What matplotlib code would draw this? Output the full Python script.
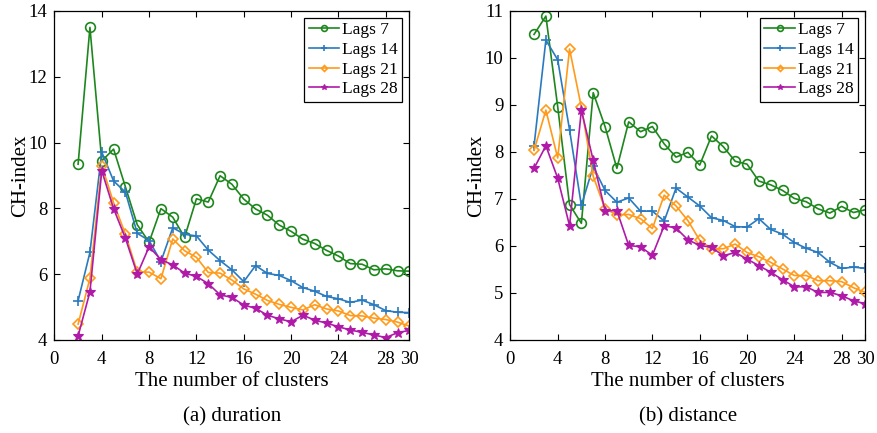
import numpy as np
import matplotlib
matplotlib.use("Agg")
import matplotlib.pyplot as plt

plt.rcParams['font.family'] = ['Liberation Serif', 'DejaVu Serif']
plt.rcParams['mathtext.fontset'] = 'stix'

# number of clusters on the x axis
clusters = np.arange(2, 31)

# CH-index for the duration features
dur_lag7 = [9.34, 13.50, 9.44, 9.80, 8.65, 7.50, 6.97, 7.99, 7.73, 7.12, 8.29, 8.19, 8.99,
            8.73, 8.28, 7.98, 7.79, 7.49, 7.30, 7.06, 6.93, 6.72, 6.55, 6.32, 6.30, 6.13,
            6.16, 6.10, 6.09]
dur_lag14 = [5.19, 6.66, 9.71, 8.83, 8.49, 7.24, 7.02, 6.38, 7.41, 7.21, 7.16, 6.73, 6.41,
             6.13, 5.77, 6.26, 6.02, 5.96, 5.80, 5.59, 5.48, 5.32, 5.25, 5.14, 5.21, 5.07,
             4.89, 4.84, 4.83]
dur_lag21 = [4.48, 5.87, 9.30, 8.17, 7.21, 6.07, 6.06, 5.86, 7.07, 6.71, 6.51, 6.05, 6.03,
             5.82, 5.55, 5.39, 5.20, 5.08, 4.99, 4.91, 5.07, 4.94, 4.88, 4.74, 4.73, 4.66,
             4.62, 4.54, 4.42]
dur_lag28 = [4.12, 5.46, 9.14, 7.99, 7.09, 6.00, 6.83, 6.44, 6.28, 6.03, 5.93, 5.71, 5.37,
             5.29, 5.06, 4.96, 4.75, 4.64, 4.55, 4.75, 4.60, 4.51, 4.40, 4.30, 4.23, 4.15,
             4.07, 4.22, 4.29]

# CH-index for the distance features
dist_lag7 = [10.50, 10.89, 8.96, 6.88, 6.48, 9.26, 8.54, 7.65, 8.64, 8.43, 8.54, 8.17, 7.89,
             7.99, 7.72, 8.34, 8.11, 7.80, 7.74, 7.38, 7.30, 7.18, 7.01, 6.94, 6.79, 6.70,
             6.84, 6.71, 6.77]
dist_lag14 = [8.13, 10.38, 9.96, 8.47, 6.86, 7.69, 7.18, 6.93, 7.02, 6.74, 6.74, 6.53, 7.23,
              7.04, 6.85, 6.60, 6.54, 6.41, 6.40, 6.58, 6.35, 6.25, 6.07, 5.95, 5.86, 5.65,
              5.52, 5.55, 5.52]
dist_lag21 = [8.03, 8.89, 7.87, 10.19, 8.95, 7.48, 6.79, 6.66, 6.67, 6.58, 6.37, 7.08, 6.85,
              6.54, 6.12, 5.94, 5.94, 6.04, 5.86, 5.77, 5.65, 5.51, 5.37, 5.37, 5.26, 5.26,
              5.24, 5.11, 5.01]
dist_lag28 = [7.65, 8.13, 7.44, 6.43, 8.89, 7.82, 6.75, 6.75, 6.01, 5.98, 5.80, 6.43, 6.38,
              6.13, 6.01, 5.97, 5.79, 5.86, 5.72, 5.58, 5.44, 5.28, 5.13, 5.13, 5.01, 5.01,
              4.94, 4.83, 4.77]

labels = ['Lags 7', 'Lags 14', 'Lags 21', 'Lags 28']
xticks = [0, 4, 8, 12, 16, 20, 24, 28, 30]

# line styles per lag
styles = [
    dict(color='#1d871d', marker='o', mfc='none', ms=7, mew=1.2),
    dict(color='#2a7abf', marker='+', ms=7, mew=1.2),
    dict(color='#ff9a1a', marker='D', mfc='none', ms=5, mew=1.2),
    dict(color='#b01aa8', marker='*', ms=7, mew=0.8),
]


def draw_panel(ax, series, ylim, yticks, caption):
    for vals, lab, st in zip(series, labels, styles):
        ax.plot(clusters, vals, lw=1.2, label=lab, **st)
    ax.set_xlim(0, 30)
    ax.set_ylim(*ylim)
    ax.set_xticks(xticks)
    ax.set_yticks(yticks)
    ax.tick_params(direction='in', top=True, right=True, length=4, width=0.8,
                   labelsize=13.5)
    ax.tick_params(axis='x', pad=8)
    ax.tick_params(axis='y', pad=5)
    for sp in ax.spines.values():
        sp.set_linewidth(0.9)
    ax.set_xlabel('The number of clusters', fontsize=15, labelpad=3)
    ax.set_ylabel('CH-index', fontsize=15, labelpad=-1)
    leg = ax.legend(loc='upper right', fontsize=12.5, frameon=True, fancybox=False,
                    edgecolor='black', framealpha=1, borderaxespad=0.4,
                    handlelength=1.75, handletextpad=0.2, borderpad=0.25,
                    labelspacing=0.2, markerscale=0.6)
    leg.get_frame().set_linewidth(0.9)
    ax.text(0.5, -0.205, caption, transform=ax.transAxes, ha='center', va='top',
            fontsize=15)


fig = plt.figure(figsize=(8.78, 4.33), dpi=100)
ax1 = fig.add_axes([0.062, 0.215, 0.4043, 0.7598])
ax2 = fig.add_axes([0.5813, 0.215, 0.4043, 0.7598])

draw_panel(ax1, [dur_lag7, dur_lag14, dur_lag21, dur_lag28], (4, 14),
           [4, 6, 8, 10, 12, 14], '(a) duration')
draw_panel(ax2, [dist_lag7, dist_lag14, dist_lag21, dist_lag28], (4, 11),
           [4, 5, 6, 7, 8, 9, 10, 11], '(b) distance')

fig.savefig('out.png', dpi=100)
